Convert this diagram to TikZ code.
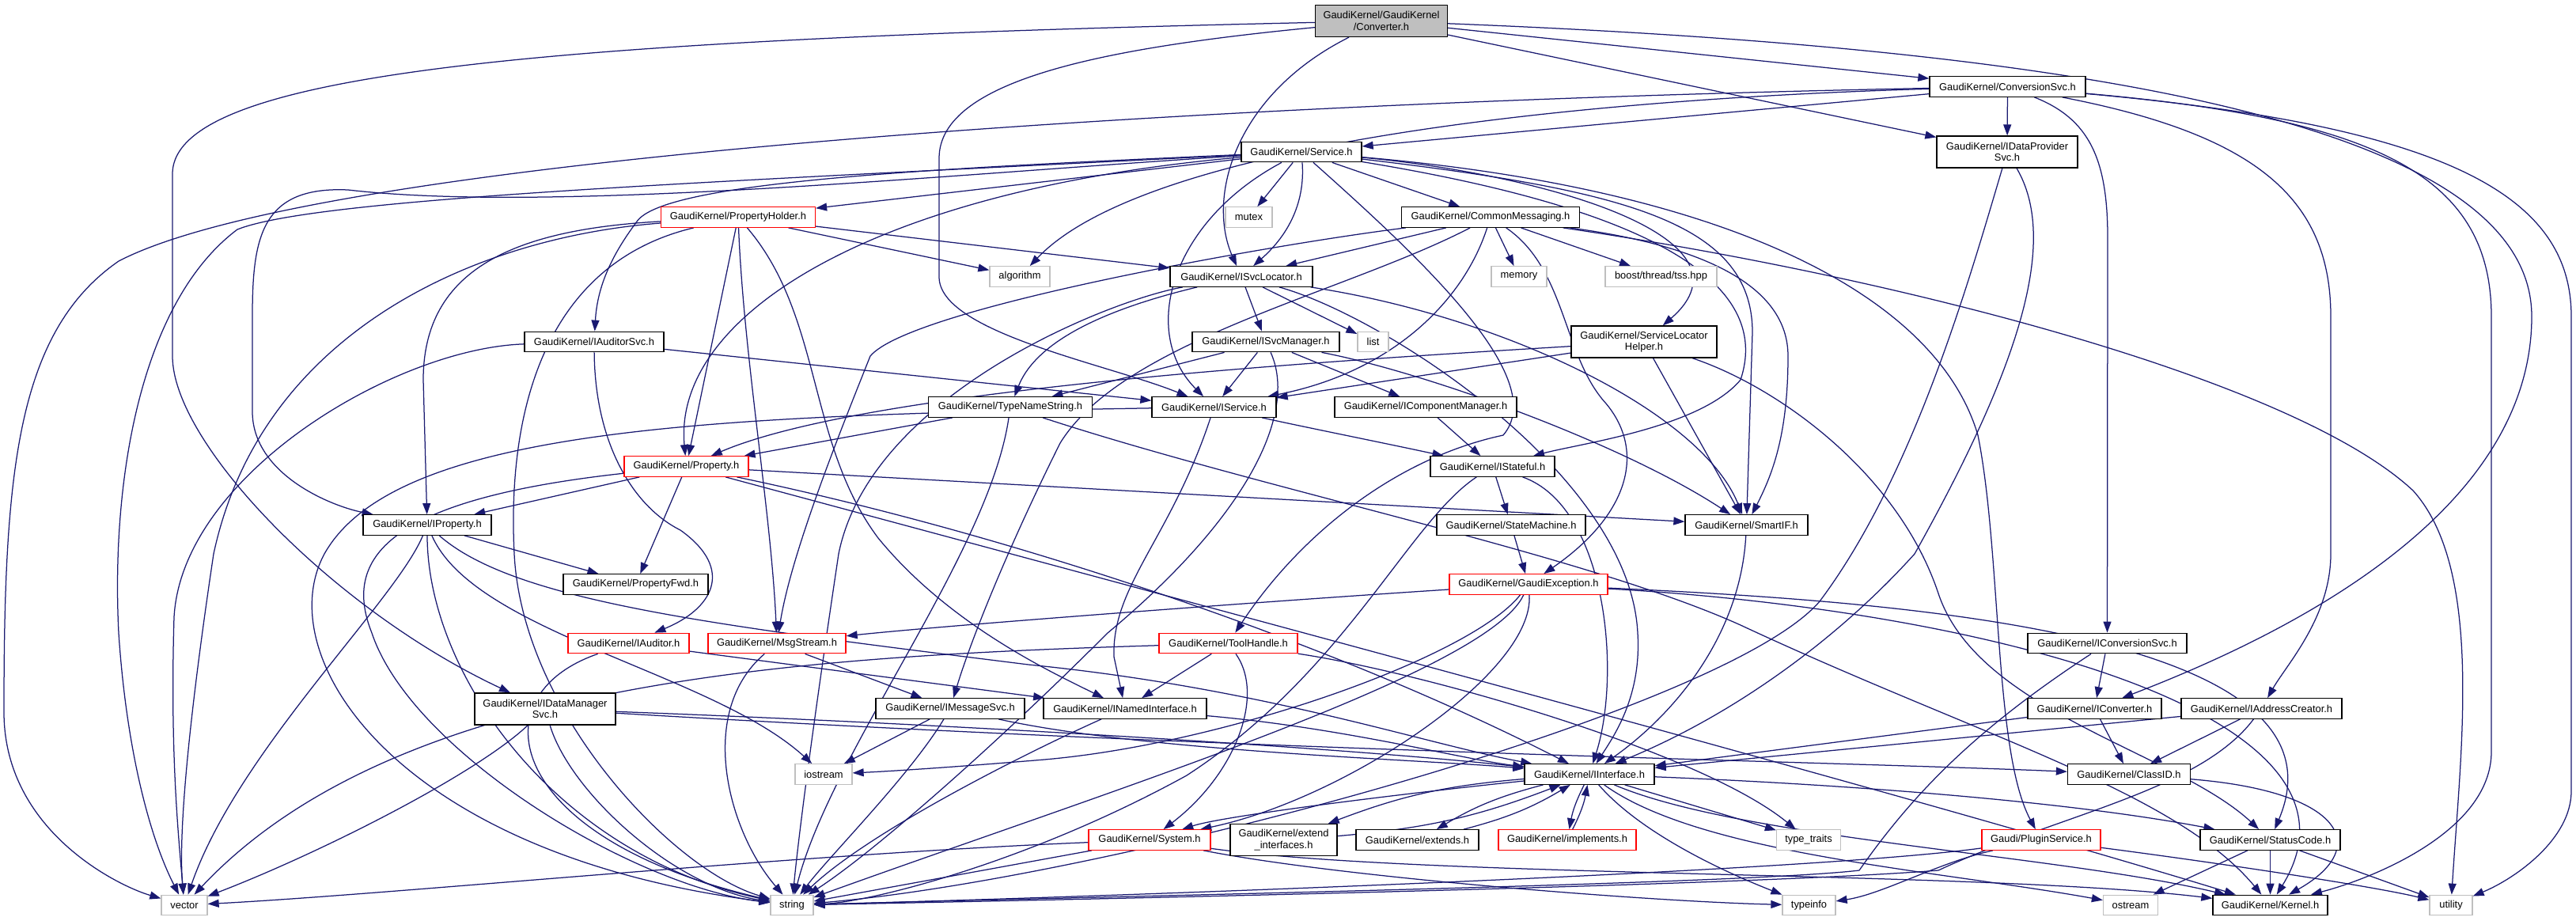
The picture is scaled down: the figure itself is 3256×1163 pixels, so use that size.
\documentclass[tikz,border=0pt]{standalone}
\usepackage{fontspec}
\setmainfont{Liberation Sans}
\usetikzlibrary{arrows.meta}
\definecolor{eblue}{HTML}{191970}
\definecolor{gbord}{HTML}{BFBFBF}
\definecolor{rbord}{HTML}{FF0000}
\definecolor{cfill}{HTML}{BFBFBF}
\newcommand\fs{\fontsize{12.9pt}{14.5pt}\selectfont}
\pgfdeclarelayer{bg}
\pgfsetlayers{bg,main}
\tikzset{
 nb/.style={rectangle, inner sep=0pt, minimum height=25.5pt, font=\fs, text=black, line width=1.3pt, fill=white},
 bk/.style={nb, draw=black},
 rd/.style={nb, draw=rbord},
 gy/.style={nb, draw=gbord},
 two/.style={minimum height=40pt, align=center},
 e/.style={draw=eblue, line width=1.25pt, -{Triangle[length=14pt,width=10pt]}},
}
\begin{document}
\begin{tikzpicture}[x=1pt,y=-1pt]
\useasboundingbox (0,0) rectangle (3256,1163);
\node[bk, fill=cfill, two, minimum width=167pt] (conv) at (1746,26.5) {GaudiKernel/GaudiKernel\\/Converter.h};
\node[bk, minimum width=197pt] (convsvc) at (2537.5,109.5) {GaudiKernel/ConversionSvc.h};
\node[bk, two, minimum width=178pt] (idps) at (2537,192) {GaudiKernel/IDataProvider\\Svc.h};
\node[bk, minimum width=152pt] (service) at (1645,192) {GaudiKernel/Service.h};
\node[rd, minimum width=195pt] (propholder) at (933,274.5) {GaudiKernel/PropertyHolder.h};
\node[gy, minimum width=59pt] (mutex) at (1578.5,274.5) {mutex};
\node[bk, minimum width=225pt] (commsg) at (1884,274.5) {GaudiKernel/CommonMessaging.h};
\node[gy, minimum width=76pt] (algorithm) at (1289,349.5) {algorithm};
\node[bk, minimum width=180pt] (isvcloc) at (1569,349.5) {GaudiKernel/ISvcLocator.h};
\node[gy, minimum width=70pt] (memory) at (1920,349.5) {memory};
\node[gy, minimum width=141pt] (tss) at (2099.5,349.5) {boost/thread/tss.hpp};
\node[bk, minimum width=176pt] (iauditorsvc) at (751,432) {GaudiKernel/IAuditorSvc.h};
\node[bk, minimum width=186pt] (isvcmgr) at (1600,432) {GaudiKernel/ISvcManager.h};
\node[gy, minimum width=39pt] (list) at (1735.5,432) {list};
\node[bk, two, minimum width=184pt] (slh) at (2078,432) {GaudiKernel/ServiceLocator\\Helper.h};
\node[bk, minimum width=207pt] (typename) at (1277,514.5) {GaudiKernel/TypeNameString.h};
\node[bk, minimum width=157pt] (iservice) at (1534.5,514.5) {GaudiKernel/IService.h};
\node[bk, minimum width=230pt] (icompmgr) at (1802,514.5) {GaudiKernel/IComponentManager.h};
\node[rd, minimum width=157pt] (property) at (867.5,589.5) {GaudiKernel/Property.h};
\node[bk, minimum width=157pt] (istateful) at (1886.5,589.5) {GaudiKernel/IStateful.h};
\node[bk, minimum width=162pt] (iproperty) at (540,663.5) {GaudiKernel/IProperty.h};
\node[bk, minimum width=188pt] (statemachine) at (1910,663.5) {GaudiKernel/StateMachine.h};
\node[bk, minimum width=155pt] (smartif) at (2207.5,663.5) {GaudiKernel/SmartIF.h};
\node[bk, minimum width=183pt] (propfwd) at (803.5,738.5) {GaudiKernel/PropertyFwd.h};
\node[rd, minimum width=200pt] (gexc) at (1932,738.5) {GaudiKernel/GaudiException.h};
\node[rd, minimum width=153pt] (iauditor) at (794.5,813) {GaudiKernel/IAuditor.h};
\node[rd, minimum width=174pt] (msgstream) at (982,813) {GaudiKernel/MsgStream.h};
\node[rd, minimum width=175pt] (toolhandle) at (1552.5,813) {GaudiKernel/ToolHandle.h};
\node[bk, minimum width=201pt] (iconvsvc) at (2663.5,813) {GaudiKernel/IConversionSvc.h};
\node[bk, two, minimum width=178pt] (idms) at (689,896) {GaudiKernel/IDataManager\\Svc.h};
\node[bk, minimum width=188pt] (imsgsvc) at (1201,895.5) {GaudiKernel/IMessageSvc.h};
\node[bk, minimum width=206pt] (inamed) at (1422,895.5) {GaudiKernel/INamedInterface.h};
\node[bk, minimum width=169pt] (iconverter) at (2647.5,895.5) {GaudiKernel/IConverter.h};
\node[bk, minimum width=203pt] (iaddr) at (2858.5,895.5) {GaudiKernel/IAddressCreator.h};
\node[gy, minimum width=72pt] (iostream) at (1041,978.5) {iostream};
\node[bk, minimum width=164pt] (iinterface) at (2009,978.5) {GaudiKernel/IInterface.h};
\node[bk, minimum width=155pt] (classid) at (2691,978.5) {GaudiKernel/ClassID.h};
\node[rd, minimum width=154pt] (system) at (1453,1061.5) {GaudiKernel/System.h};
\node[bk, two, minimum width=135pt] (extifaces) at (1622.5,1061.5) {GaudiKernel/extend\\\_interfaces.h};
\node[bk, minimum width=155pt] (extends) at (1791.5,1061.5) {GaudiKernel/extends.h};
\node[rd, minimum width=174pt] (implements) at (1981,1061.5) {GaudiKernel/implements.h};
\node[gy, minimum width=81pt] (typetraits) at (2286,1061.5) {type\_traits};
\node[rd, minimum width=150pt] (plugin) at (2580,1061.5) {Gaudi/PluginService.h};
\node[bk, minimum width=177pt] (statuscode) at (2869.5,1061.5) {GaudiKernel/StatusCode.h};
\node[gy, minimum width=58pt] (vector) at (233,1144) {vector};
\node[gy, minimum width=54pt] (string) at (1001,1144) {string};
\node[gy, minimum width=67pt] (typeinfo) at (2286.5,1144) {typeinfo};
\node[gy, minimum width=69pt] (ostream) at (2693,1144) {ostream};
\node[bk, minimum width=145pt] (kernel) at (2869.5,1144) {GaudiKernel/Kernel.h};
\node[gy, minimum width=54pt] (utility) at (3098,1144) {utility};

\begin{pgfonlayer}{bg}
% Converter.h
\draw[e] (conv) -- (convsvc);
\draw[e] (conv) -- (idps);
\draw[e] (conv) .. controls (2600,60) and (3200,150) .. (3200,400) .. controls (3200,600) and (3000,760) .. (iconverter);
\draw[e] (conv) .. controls (700,50) and (218,90) .. (218,220) -- (218,450) .. controls (218,560) and (420,770) .. (idms);
\draw[e] (conv) .. controls (1400,60) and (1187,100) .. (1187,200) -- (1187,350) .. controls (1187,420) and (1400,460) .. (iservice);
\draw[e] (conv) .. controls (1560,120) and (1525,250) .. (isvcloc);
% ConversionSvc.h
\draw[e] (convsvc) -- (service);
\draw[e] (convsvc) .. controls (2000,125) and (1450,180) .. (algorithm);
\draw[e] (convsvc) .. controls (1500,130) and (400,200) .. (150,330) .. controls (20,420) and (5,600) .. (5,900) .. controls (5,1050) and (150,1120) .. (vector);
\draw[e] (convsvc) -- (idps);
\draw[e] (convsvc) .. controls (2640,150) and (2664,200) .. (2664,300) -- (iconvsvc);
\draw[e] (convsvc) .. controls (2850,170) and (2946,250) .. (2946,400) -- (2946,700) .. controls (2946,780) and (2890,840) .. (iaddr);
\draw[e] (convsvc) .. controls (3000,150) and (3149,220) .. (3149,400) -- (3149,950) .. controls (3149,1050) and (3000,1110) .. (kernel);
\draw[e] (convsvc) .. controls (3100,160) and (3250,250) .. (3250,400) -- (3250,1000) .. controls (3250,1060) and (3180,1110) .. (utility);
% IDataProviderSvc.h
\draw[e] (idps) .. controls (2600,300) and (2560,450) .. (2420,700) .. controls (2330,800) and (2200,900) .. (iinterface);
\draw[e] (idps) .. controls (2490,350) and (2420,600) .. (2300,760) .. controls (2180,900) and (1400,1110) .. (string);
% Service.h
\draw[e] (service) -- (mutex);
\draw[e] (service) -- (propholder);
\draw[e] (service) -- (commsg);
\draw[e] (service) .. controls (1650,260) and (1625,300) .. (isvcloc);
\draw[e] (service) .. controls (1200,212) and (840,228) .. (805,280) .. controls (775,320) and (755,360) .. (iauditorsvc);
\draw[e] (service) .. controls (1200,220) and (700,270) .. (440,240) .. controls (330,235) and (319,300) .. (319,400) -- (319,520) .. controls (319,600) and (420,640) .. (iproperty);
\draw[e] (service) .. controls (900,230) and (400,250) .. (300,290) .. controls (180,380) and (140,600) .. (150,800) .. controls (160,950) and (190,1060) .. (vector);
\draw[e] (service) .. controls (1100,240) and (850,400) .. (property);
\draw[e] (service) .. controls (1480,280) and (1440,420) .. (iservice);
\draw[e] (service) .. controls (1800,330) and (1960,480) .. (1900,550) .. controls (1760,580) and (1640,680) .. (toolhandle);
\draw[e] (service) .. controls (2050,240) and (2215,280) .. (2215,420) -- (smartif);
\draw[e] (service) .. controls (2000,250) and (2250,330) .. (2200,480) .. controls (2150,540) and (2000,560) .. (istateful);
\draw[e] (service) .. controls (1950,220) and (2230,300) .. (slh);
\draw[e] (service) .. controls (2200,240) and (2450,380) .. (2500,550) .. controls (2530,700) and (2520,950) .. (plugin);
% PropertyHolder.h
\draw[e] (propholder) -- (algorithm);
\draw[e] (propholder) -- (isvcloc);
\draw[e] (propholder) -- (property);
\draw[e] (propholder) .. controls (650,290) and (535,340) .. (535,480) -- (iproperty);
\draw[e] (propholder) .. controls (940,450) and (975,650) .. (msgstream);
\draw[e] (propholder) .. controls (1040,400) and (1020,560) .. (1110,680) .. controls (1200,790) and (1330,850) .. (inamed);
\draw[e] (propholder) .. controls (600,300) and (330,420) .. (270,700) .. controls (240,900) and (225,1050) .. (vector);
\draw[e] (propholder) .. controls (700,330) and (640,500) .. (650,700) .. controls (660,900) and (850,1100) .. (string);
% CommonMessaging.h
\draw[e] (commsg) .. controls (1600,310) and (1150,390) .. (1100,450) .. controls (1060,550) and (1000,700) .. (msgstream);
\draw[e] (commsg) -- (isvcloc);
\draw[e] (commsg) .. controls (1700,370) and (1420,430) .. (1340,560) .. controls (1280,680) and (1230,800) .. (imsgsvc);
\draw[e] (commsg) .. controls (1850,380) and (1760,470) .. (iservice);
\draw[e] (commsg) -- (memory);
\draw[e] (commsg) .. controls (1980,340) and (1975,450) .. (2030,510) .. controls (2080,570) and (2060,650) .. (gexc);
\draw[e] (commsg) -- (tss);
\draw[e] (commsg) .. controls (2150,310) and (2260,360) .. (2260,450) .. controls (2260,550) and (2240,600) .. (smartif);
\draw[e] (commsg) .. controls (2400,350) and (2900,480) .. (3050,620) .. controls (3140,720) and (3110,950) .. (utility);
% ISvcLocator.h
\draw[e] (isvcloc) .. controls (1400,390) and (1310,430) .. (typename);
\draw[e] (isvcloc) -- (isvcmgr);
\draw[e] (isvcloc) -- (list);
\draw[e] (isvcloc) .. controls (1900,400) and (2150,520) .. (smartif);
\draw[e] (isvcloc) .. controls (1750,400) and (2060,600) .. (2070,800) .. controls (2075,880) and (2040,930) .. (iinterface);
\draw[e] (isvcloc) .. controls (1400,380) and (1100,500) .. (1060,700) .. controls (1030,900) and (1010,1050) .. (string);
% ISvcManager.h
\draw[e] (isvcmgr) -- (typename);
\draw[e] (isvcmgr) -- (iservice);
\draw[e] (isvcmgr) -- (icompmgr);
\draw[e] (isvcmgr) .. controls (1800,470) and (2050,560) .. (smartif);
\draw[e] (isvcmgr) .. controls (1640,520) and (1580,650) .. (1400,800) .. controls (1250,950) and (1100,1080) .. (string);
% ServiceLocatorHelper.h
\draw[e] (slh) -- (iservice);
\draw[e] (slh) .. controls (1700,455) and (1100,490) .. (property);
\draw[e] (slh) -- (smartif);
\draw[e] (slh) .. controls (2250,490) and (2400,600) .. (2450,750) .. controls (2500,900) and (2750,950) .. (statuscode);
% TypeNameString.h
\draw[e] (typename) -- (property);
\draw[e] (typename) .. controls (1250,700) and (1050,950) .. (string);
\draw[e] (typename) .. controls (1600,620) and (2000,700) .. (2200,790) .. controls (2500,930) and (2750,1000) .. (kernel);
% IService.h
\draw[e] (iservice) .. controls (1480,680) and (1405,740) .. (1408,830) -- (inamed);
\draw[e] (iservice) .. controls (1650,540) and (1750,560) .. (istateful);
\draw[e] (iservice) .. controls (900,525) and (500,540) .. (410,700) .. controls (340,830) and (500,1080) .. (string);
% IComponentManager.h, IStateful.h, StateMachine.h, SmartIF.h
\draw[e] (icompmgr) -- (istateful);
\draw[e] (istateful) -- (statemachine);
\draw[e] (istateful) .. controls (2030,640) and (2050,850) .. (iinterface);
\draw[e] (istateful) .. controls (1780,660) and (1700,850) .. (1500,980) .. controls (1300,1090) and (1100,1140) .. (string);
\draw[e] (statemachine) -- (gexc);
\draw[e] (smartif) .. controls (2200,800) and (2120,900) .. (iinterface);
% Property.h
\draw[e] (property) -- (iproperty);
\draw[e] (property) -- (propfwd);
\draw[e] (property) -- (smartif);
\draw[e] (property) .. controls (500,630) and (430,700) .. (470,800) .. controls (520,950) and (800,1120) .. (string);
\draw[e] (property) .. controls (1300,680) and (1700,820) .. (iinterface);
\draw[e] (property) .. controls (1500,760) and (2400,1000) .. (kernel);
% IProperty.h
\draw[e] (iproperty) -- (propfwd);
\draw[e] (iproperty) .. controls (540,850) and (700,1080) .. (string);
\draw[e] (iproperty) .. controls (500,760) and (300,950) .. (vector);
\draw[e] (iproperty) .. controls (650,760) and (900,790) .. (1300,840) .. controls (1600,870) and (1800,940) .. (iinterface);
\draw[e] (iproperty) .. controls (600,800) and (900,850) .. (iostream);
% IAuditorSvc.h
\draw[e] (iauditorsvc) -- (iservice);
\draw[e] (iauditorsvc) .. controls (752,560) and (800,640) .. (860,670) .. controls (930,720) and (900,770) .. (iauditor);
\draw[e] (iauditorsvc) .. controls (500,440) and (230,600) .. (220,780) .. controls (215,950) and (225,1050) .. (vector);
% IAuditor.h, MsgStream.h, ToolHandle.h
\draw[e] (iauditor) -- (inamed);
\draw[e] (iauditor) .. controls (600,880) and (640,1060) .. (string);
\draw[e] (msgstream) -- (imsgsvc);
\draw[e] (msgstream) .. controls (880,900) and (920,1050) .. (string);
\draw[e] (toolhandle) -- (inamed);
\draw[e] (toolhandle) .. controls (1600,880) and (1560,980) .. (system);
\draw[e] (toolhandle) .. controls (1000,830) and (500,860) .. (vector);
\draw[e] (toolhandle) .. controls (1800,850) and (2150,950) .. (typetraits);
% IMessageSvc.h, INamedInterface.h
\draw[e] (imsgsvc) -- (iostream);
\draw[e] (imsgsvc) .. controls (1150,980) and (1050,1080) .. (string);
\draw[e] (imsgsvc) .. controls (1450,950) and (1800,960) .. (iinterface);
\draw[e] (inamed) .. controls (1700,920) and (1850,960) .. (iinterface);
\draw[e] (inamed) .. controls (1300,950) and (1100,1050) .. (string);
% IDataManagerSvc.h
\draw[e] (idms) .. controls (1200,915) and (1700,945) .. (iinterface);
\draw[e] (idms) .. controls (1600,950) and (2300,962) .. (classid);
\draw[e] (idms) .. controls (600,980) and (400,1080) .. (vector);
\draw[e] (idms) .. controls (720,1000) and (850,1120) .. (string);
% IConversionSvc.h, IConverter.h, IAddressCreator.h, ClassID.h
\draw[e] (iconvsvc) -- (iconverter);
\draw[e] (iconvsvc) .. controls (2500,920) and (2420,1000) .. (2350,1100) .. controls (2200,1118) and (1300,1135) .. (string);
\draw[e] (iconverter) -- (classid);
\draw[e] (iconverter) -- (iinterface);
\draw[e] (iaddr) -- (classid);
\draw[e] (iaddr) -- (iinterface);
\draw[e] (iaddr) .. controls (2780,1000) and (2600,1030) .. (2450,1100) .. controls (2200,1120) and (1300,1138) .. (string);
\draw[e] (classid) .. controls (2960,1000) and (3000,1070) .. (kernel);
% IInterface.h
\draw[e] (iinterface) .. controls (1800,1000) and (1550,1030) .. (system);
\draw[e] (iinterface) to[bend right=8] (extifaces);
\draw[e] (extifaces) to[bend right=8] (iinterface);
\draw[e] (iinterface) to[bend right=8] (extends);
\draw[e] (extends) to[bend right=8] (iinterface);
\draw[e] (iinterface) to[bend right=8] (implements);
\draw[e] (implements) to[bend right=8] (iinterface);
\draw[e] (iinterface) -- (typetraits);
\draw[e] (iinterface) .. controls (2080,1060) and (2200,1110) .. (typeinfo);
\draw[e] (iinterface) .. controls (2200,1060) and (2600,1080) .. (kernel);
\draw[e] (iinterface) .. controls (2300,990) and (2600,1010) .. (statuscode);
\draw[e] (iinterface) .. controls (2150,1080) and (2450,1100) .. (ostream);
% System.h
\draw[e] (system) .. controls (1000,1080) and (500,1130) .. (vector);
\draw[e] (system) -- (string);
\draw[e] (system) .. controls (1700,1110) and (2100,1140) .. (typeinfo);
\draw[e] (system) .. controls (1800,1110) and (2500,1100) .. (kernel);
% GaudiException.h
\draw[e] (gexc) .. controls (1600,760) and (1200,790) .. (msgstream);
\draw[e] (gexc) .. controls (1860,830) and (1550,940) .. (1320,960) .. controls (1200,970) and (1120,975) .. (iostream);
\draw[e] (gexc) .. controls (1880,850) and (1400,1000) .. (string);
\draw[e] (gexc) .. controls (1940,850) and (1700,1010) .. (system);
\draw[e] (gexc) .. controls (2400,760) and (2980,800) .. (statuscode);
\draw[e] (gexc) .. controls (2500,770) and (3020,900) .. (kernel);
% PluginService.h, StatusCode.h
\draw[e] (plugin) .. controls (2300,1100) and (1500,1130) .. (string);
\draw[e] (plugin) .. controls (2450,1090) and (2380,1130) .. (typeinfo);
\draw[e] (plugin) .. controls (2800,1090) and (3000,1120) .. (utility);
\draw[e] (statuscode) -- (ostream);
\draw[e] (statuscode) -- (kernel);
\draw[e] (statuscode) -- (utility);
\end{pgfonlayer}
\end{tikzpicture}
\end{document}
